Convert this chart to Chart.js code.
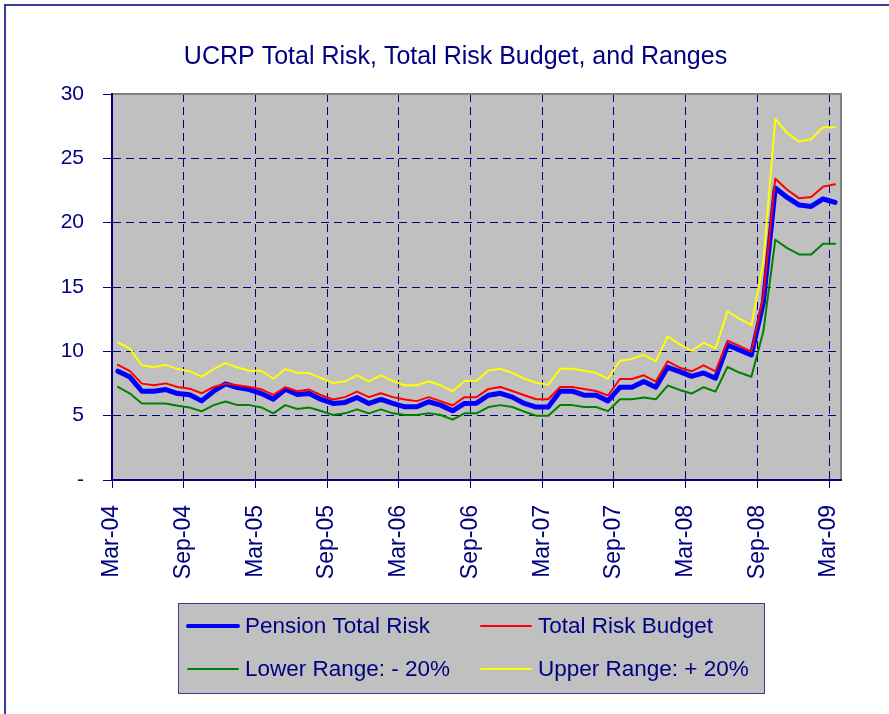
<!DOCTYPE html>
<html>
<head>
<meta charset="utf-8">
<script src="https://cdn.jsdelivr.net/npm/chart.js@4.4.1/dist/chart.umd.min.js"></script>
<style>
  html, body { margin: 0; padding: 0; background: #fff; overflow: hidden; }
  .wrap { position: absolute; left: 0; top: 0; width: 889px; height: 714px; }
</style>
</head>
<body>
<div class="wrap"><canvas id="risk-chart"></canvas></div>
<script>
"use strict";

// monthly values, Mar-04 .. Mar-09 (61 months)
const tickLabels = ["Mar-04", "Sep-04", "Mar-05", "Sep-05", "Mar-06", "Sep-06",
  "Mar-07", "Sep-07", "Mar-08", "Sep-08", "Mar-09"];
const monthsPerTick = 6;
const chartTitle = "UCRP Total Risk, Total Risk Budget, and Ranges";

const pensionRisk = [
  8.46, 8.00, 6.90, 6.90, 7.03, 6.72, 6.62, 6.15, 6.90, 7.47,
  7.18, 7.03, 6.72, 6.28, 7.05, 6.65, 6.72, 6.26, 5.95, 6.03,
  6.41, 5.95, 6.26, 5.95, 5.69, 5.69, 6.08, 5.82, 5.38, 5.95,
  5.97, 6.59, 6.74, 6.44, 5.95, 5.67, 5.67, 6.90, 6.90, 6.59,
  6.59, 6.15, 7.20, 7.20, 7.66, 7.21, 8.76, 8.42, 8.06, 8.32,
  7.91, 10.49, 10.11, 9.72, 13.8, 22.69, 21.96, 21.37, 21.26, 21.84, 21.58
];
const riskBudget = [
  8.95, 8.46, 7.49, 7.36, 7.51, 7.23, 7.10, 6.74, 7.23, 7.49,
  7.36, 7.23, 7.05, 6.62, 7.21, 6.90, 7.03, 6.59, 6.26, 6.44,
  6.87, 6.44, 6.74, 6.44, 6.26, 6.13, 6.44, 6.13, 5.79, 6.44,
  6.44, 7.08, 7.23, 6.92, 6.59, 6.28, 6.28, 7.23, 7.23, 7.08,
  6.92, 6.57, 7.85, 7.85, 8.14, 7.65, 9.22, 8.73, 8.45, 8.91,
  8.45, 10.82, 10.42, 9.98, 14.26, 23.42, 22.56, 21.89, 21.99, 22.80, 22.98
];
const lowerRange = [
  7.23, 6.72, 5.95, 5.95, 5.95, 5.77, 5.64, 5.33, 5.82, 6.10,
  5.82, 5.82, 5.64, 5.18, 5.82, 5.52, 5.64, 5.36, 5.05, 5.18,
  5.49, 5.18, 5.49, 5.18, 5.05, 5.05, 5.18, 5.05, 4.69, 5.18,
  5.18, 5.67, 5.82, 5.67, 5.31, 5.00, 5.00, 5.82, 5.82, 5.67,
  5.67, 5.35, 6.28, 6.28, 6.41, 6.27, 7.34, 7.00, 6.72, 7.21,
  6.87, 8.78, 8.35, 8.03, 11.54, 18.67, 18.02, 17.53, 17.53, 18.36, 18.36
];
const upperRange = [
  10.69, 10.21, 8.92, 8.77, 8.95, 8.62, 8.46, 8.03, 8.62, 9.08,
  8.74, 8.49, 8.49, 7.87, 8.62, 8.33, 8.31, 7.92, 7.54, 7.67,
  8.13, 7.67, 8.13, 7.69, 7.36, 7.36, 7.67, 7.36, 6.90, 7.69,
  7.72, 8.51, 8.64, 8.33, 7.87, 7.56, 7.41, 8.64, 8.64, 8.49,
  8.33, 7.87, 9.27, 9.41, 9.73, 9.22, 11.16, 10.54, 10.03, 10.67,
  10.23, 13.1, 12.55, 12.03, 16.9, 28.06, 26.97, 26.30, 26.48, 27.41, 27.41
];

const NAVY = "#000080";
const FONT = "'Liberation Sans', Arial, sans-serif";

// each month sits in the middle of its slot on the date axis
const toPoints = (arr) => arr.map((v, i) => ({ x: i + 0.5, y: v }));

// excel chart frame (cropped on the right and bottom) + title
const frameAndTitle = {
  id: "frameAndTitle",
  beforeDraw(chart) {
    const { ctx, width, height } = chart;
    ctx.save();
    ctx.strokeStyle = "#3a3a9a";
    ctx.lineWidth = 2;
    ctx.beginPath();
    ctx.moveTo(5, height);
    ctx.lineTo(5, 5);
    ctx.lineTo(width, 5);
    ctx.stroke();
    ctx.fillStyle = NAVY;
    ctx.font = "25px " + FONT;
    ctx.textAlign = "center";
    ctx.textBaseline = "middle";
    ctx.fillText(chartTitle, 455.5, 57);
    ctx.restore();
  },
};

const plotBg = {
  id: "plotBg",
  beforeDraw(chart) {
    const { ctx, chartArea: a } = chart;
    ctx.save();
    ctx.fillStyle = "#c0c0c0";
    ctx.fillRect(a.left, a.top, a.right - a.left, a.bottom - a.top);
    ctx.restore();
  },
  beforeDatasetsDraw(chart) {
    const { ctx, chartArea: a } = chart;
    ctx.save();
    ctx.strokeStyle = "#808080";
    ctx.lineWidth = 2;
    ctx.beginPath();
    ctx.moveTo(a.left + 1, a.top);
    ctx.lineTo(a.right, a.top);
    ctx.lineTo(a.right, a.bottom - 1);
    ctx.stroke();
    ctx.restore();
  },
};

const boxLegend = {
  id: "boxLegend",
  afterDraw(chart) {
    const { ctx } = chart;
    const box = { x: 178.5, y: 603.5, w: 586, h: 90 };
    const colX = [188, 481];
    const rowY = [626, 669];
    ctx.save();
    ctx.fillStyle = "#c0c0c0";
    ctx.fillRect(box.x, box.y, box.w, box.h);
    ctx.strokeStyle = "#3a3a9a";
    ctx.lineWidth = 1;
    ctx.strokeRect(box.x, box.y, box.w, box.h);
    ctx.font = "22.5px " + FONT;
    ctx.textBaseline = "middle";
    ctx.fillStyle = NAVY;
    chart.data.datasets.forEach((ds, i) => {
      const x = colX[i % 2];
      const y = rowY[Math.floor(i / 2)];
      ctx.strokeStyle = ds.borderColor;
      ctx.lineWidth = Math.min(ds.borderWidth, 4);
      ctx.lineCap = "round";
      ctx.beginPath();
      ctx.moveTo(x, y);
      ctx.lineTo(x + 50, y);
      ctx.stroke();
      ctx.fillText(ds.label, x + 57, y + 1);
    });
    ctx.restore();
  },
};

const lineStyle = (label, data, color, width, order) => ({
  label,
  data: toPoints(data),
  borderColor: color,
  backgroundColor: color,
  borderWidth: width,
  pointRadius: 0,
  tension: 0,
  borderJoinStyle: "round",
  borderCapStyle: "round",
  order,
});

new Chart(document.getElementById("risk-chart"), {
  type: "line",
  data: {
    datasets: [
      lineStyle("Pension Total Risk", pensionRisk, "#0000ff", 5, 4),
      lineStyle("Total Risk Budget", riskBudget, "#ff0000", 2, 3),
      lineStyle("Lower Range: - 20%", lowerRange, "#008000", 2, 2),
      lineStyle("Upper Range: + 20%", upperRange, "#ffff00", 2, 1),
    ],
  },
  options: {
    responsive: true,
    maintainAspectRatio: false,
    animation: false,
    devicePixelRatio: 1,
    layout: { padding: { left: 0, top: 94, right: 48, bottom: 124 } },
    plugins: {
      legend: { display: false },
      tooltip: { enabled: false },
      title: { display: false },
    },
    scales: {
      x: {
        type: "linear",
        min: 0,
        max: pensionRisk.length,
        afterBuildTicks(scale) {
          scale.ticks = tickLabels.map((_, i) => ({ value: i * monthsPerTick }));
        },
        afterFit(scale) {
          scale.height = 110;
        },
        ticks: {
          autoSkip: false,
          minRotation: 90,
          maxRotation: 90,
          padding: 17,
          color: NAVY,
          font: { family: FONT, size: 23 },
          callback: (v) => tickLabels[Math.round(v / monthsPerTick)] ?? "",
        },
        grid: {
          color: NAVY,
          lineWidth: 1,
          tickLength: 8,
          tickBorderDash: [],
        },
        border: { display: true, color: NAVY, width: 2, dash: [8, 5] },
      },
      y: {
        min: 0,
        max: 30,
        afterFit(scale) {
          scale.width = 112;
        },
        ticks: {
          stepSize: 5,
          padding: 19,
          color: NAVY,
          font: { family: FONT, size: 21 },
          callback: (v) => (v === 0 ? "-" : v),
        },
        grid: {
          color: NAVY,
          lineWidth: 1,
          tickLength: 9,
          tickBorderDash: [],
        },
        border: { display: true, color: NAVY, width: 2, dash: [8, 5] },
      },
    },
  },
  plugins: [frameAndTitle, plotBg, boxLegend],
});
</script>
</body>
</html>
